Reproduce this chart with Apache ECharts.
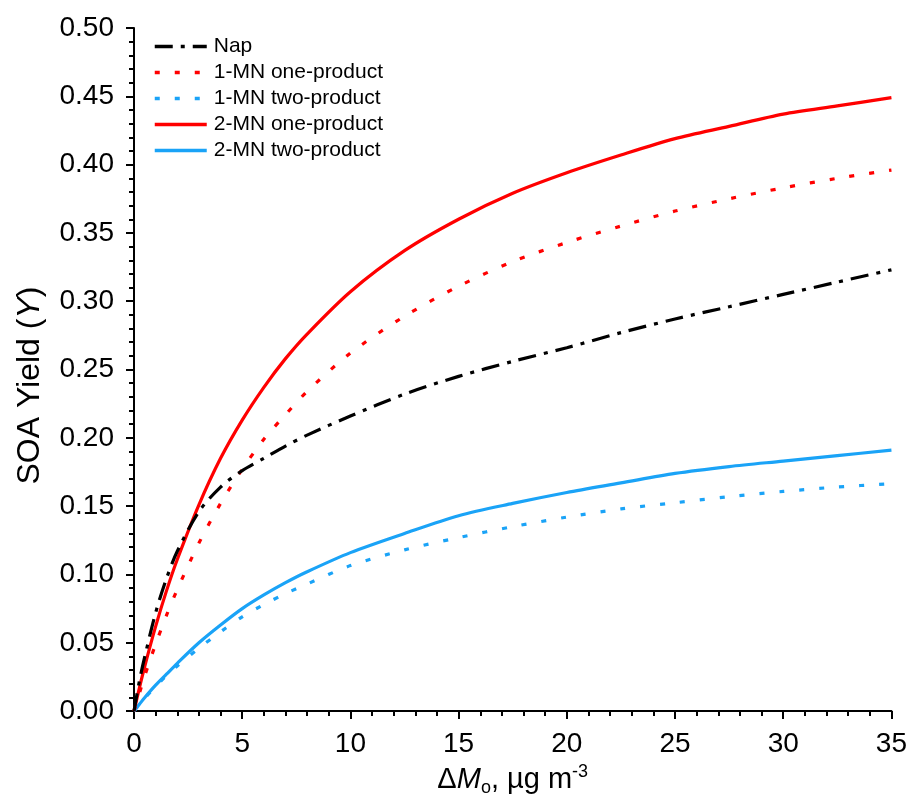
<!DOCTYPE html>
<html><head><meta charset="utf-8">
<script src="https://cdn.jsdelivr.net/npm/echarts@6/dist/echarts.min.js"></script>
<style>html,body{margin:0;padding:0;background:#fff}#c{width:910px;height:802px}</style>
</head><body><div id="c"></div>
<script>
// x positions (ΔMo, µg m-3) where values were read
const xValues = [0, 0.25, 0.5, 1, 1.5, 2, 3, 4, 5, 6, 7, 8, 10, 12.5, 15, 17.5, 20, 22.5, 25, 27.5, 30, 32.5, 35];
// series values (SOA yield)
const napY      = [0, 0.022, 0.040, 0.072, 0.097, 0.117, 0.146, 0.164, 0.176, 0.185, 0.194, 0.202, 0.216, 0.232, 0.245, 0.256, 0.266, 0.277, 0.287, 0.296, 0.305, 0.314, 0.323];
const mn1OneY   = [0, 0.013, 0.026, 0.049, 0.070, 0.089, 0.123, 0.152, 0.177, 0.199, 0.217, 0.234, 0.262, 0.289, 0.311, 0.329, 0.343, 0.355, 0.366, 0.375, 0.383, 0.390, 0.396];
const mn1TwoY   = [0, 0.005, 0.0095, 0.018, 0.026, 0.033, 0.046, 0.058, 0.069, 0.078, 0.086, 0.093, 0.1065, 0.118, 0.127, 0.135, 0.142, 0.148, 0.1525, 0.157, 0.1608, 0.164, 0.1665];
const mn2OneY   = [0, 0.017, 0.033, 0.062, 0.088, 0.111, 0.151, 0.185, 0.213, 0.237, 0.258, 0.276, 0.307, 0.337, 0.360, 0.379, 0.394, 0.407, 0.419, 0.428, 0.437, 0.443, 0.449];
const mn2TwoY   = [0, 0.005, 0.010, 0.019, 0.027, 0.035, 0.050, 0.063, 0.075, 0.085, 0.094, 0.102, 0.116, 0.130, 0.143, 0.152, 0.160, 0.167, 0.174, 0.179, 0.183, 0.187, 0.191];
const seriesNames = ['Nap', '1-MN one-product', '1-MN two-product', '2-MN one-product', '2-MN two-product'];

const FONT = '"Liberation Sans", Arial, sans-serif';
const RED = '#FF0000', BLUE = '#1AA3F7';
const pairs = arr => xValues.map((x, i) => [x, arr[i]]);

const styles = [
  {color: '#000000', type: [18, 8, 4, 8]},
  {color: RED, type: [5, 15]},
  {color: BLUE, type: [5, 15]},
  {color: RED, type: 'solid'},
  {color: BLUE, type: 'solid'}
];
const dataArrs = [napY, mn1OneY, mn1TwoY, mn2OneY, mn2TwoY];

const chart = echarts.init(document.getElementById('c'), null, {renderer: 'canvas'});
chart.setOption({
  backgroundColor: '#fff',
  animation: false,
  textStyle: {fontFamily: FONT},
  grid: {left: 134, right: 18, top: 28, bottom: 90, containLabel: false},
  legend: {
    orient: 'vertical', left: 148, top: 30,
    itemWidth: 52, itemHeight: 14, itemGap: 3,
    data: seriesNames,
    itemStyle: {opacity: 0},
    lineStyle: {width: 3.5},
    textStyle: {fontSize: 21, fontFamily: FONT, color: '#000', padding: [0, 0, 0, 2], lineHeight: 23}
  },
  xAxis: {
    type: 'value', min: 0, max: 35, interval: 5,
    name: '{d|Δ}{m|M}{sub|o}{n|, µg m}{sup|-3}',
    nameLocation: 'middle', nameGap: 46,
    nameTextStyle: {
      rich: {
        d: {fontSize: 29, fontFamily: FONT, color: '#000'},
        m: {fontSize: 29, fontFamily: FONT, color: '#000', fontStyle: 'italic'},
        sub: {fontSize: 18, fontFamily: FONT, color: '#000', padding: [16, 0, 0, 0]},
        n: {fontSize: 29, fontFamily: FONT, color: '#000'},
        sup: {fontSize: 18, fontFamily: FONT, color: '#000', padding: [0, 0, 16, 0]}
      }
    },
    axisLine: {lineStyle: {color: '#000', width: 2}},
    axisTick: {show: true, inside: false, length: 8, lineStyle: {color: '#000', width: 2}},
    minorTick: {show: true, splitNumber: 5, length: 5, lineStyle: {color: '#000', width: 2}},
    splitLine: {show: false},
    axisLabel: {fontSize: 28, color: '#000', fontFamily: FONT, margin: 19}
  },
  yAxis: {
    type: 'value', min: 0, max: 0.5, interval: 0.05,
    name: '{a|SOA Yield (}{i|Y}{a|)}',
    nameLocation: 'middle', nameGap: 88,
    nameTextStyle: {
      padding: [0, 32, 0, 0],
      rich: {
        a: {fontSize: 32, fontFamily: FONT, color: '#000'},
        i: {fontSize: 32, fontFamily: FONT, color: '#000', fontStyle: 'italic'}
      }
    },
    axisLine: {show: true, lineStyle: {color: '#000', width: 2}},
    axisTick: {show: true, inside: false, length: 8, lineStyle: {color: '#000', width: 2}},
    minorTick: {show: true, splitNumber: 5, length: 5, lineStyle: {color: '#000', width: 2}},
    splitLine: {show: false},
    axisLabel: {fontSize: 28, color: '#000', fontFamily: FONT, margin: 20,
      formatter: v => v.toFixed(2)}
  },
  series: seriesNames.map((n, i) => ({
    name: n, type: 'line', data: pairs(dataArrs[i]),
    smooth: 0.3, symbol: 'none', showSymbol: false,
    lineStyle: {color: styles[i].color, width: 3.2, type: styles[i].type},
    itemStyle: {color: styles[i].color},
    z: 5 - i
  }))
});
</script>
</body></html>
